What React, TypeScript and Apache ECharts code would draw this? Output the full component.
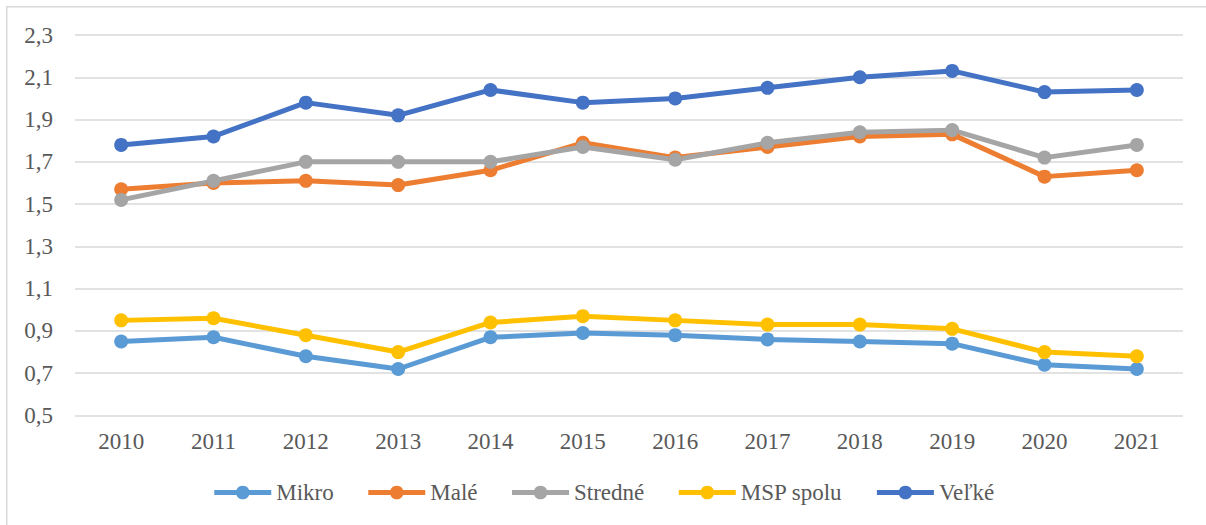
import React, { useEffect, useRef } from "react";
import * as echarts from "echarts";

const years = ["2010", "2011", "2012", "2013", "2014", "2015", "2016", "2017", "2018", "2019", "2020", "2021"];
const mikro = [0.85, 0.87, 0.78, 0.72, 0.87, 0.89, 0.88, 0.86, 0.85, 0.84, 0.74, 0.72];
const male = [1.57, 1.6, 1.61, 1.59, 1.66, 1.79, 1.72, 1.77, 1.82, 1.83, 1.63, 1.66];
const stredne = [1.52, 1.61, 1.7, 1.7, 1.7, 1.77, 1.71, 1.79, 1.84, 1.85, 1.72, 1.78];
const mspSpolu = [0.95, 0.96, 0.88, 0.8, 0.94, 0.97, 0.95, 0.93, 0.93, 0.91, 0.8, 0.78];
const velke = [1.78, 1.82, 1.98, 1.92, 2.04, 1.98, 2.0, 2.05, 2.1, 2.13, 2.03, 2.04];

const seriesNames = ["Mikro", "Malé", "Stredné", "MSP spolu", "Veľké"];
const seriesData = [mikro, male, stredne, mspSpolu, velke];
const seriesColors = ["#5B9BD5", "#ED7D31", "#A5A5A5", "#FFC000", "#4472C4"];

// axis range 0,5 .. 2,3 step 0,2 (drawn with an offset so ticks start at 0,5)
const yMin = 0.5;
const yMax = 2.3;
const yStep = 0.2;

const FONT = "Times New Roman, Liberation Serif, DejaVu Serif, serif";
const TEXT_COLOR = "#595959";

export default function App() {
  const ref = useRef<HTMLDivElement>(null);

  useEffect(() => {
    if (!ref.current) return;
    const chart = echarts.init(ref.current, undefined, { renderer: "svg" });
    const off = (v: number) => Math.round((v - yMin) * 1000) / 1000;
    chart.setOption({
      animation: false,
      backgroundColor: "#ffffff",
      textStyle: { fontFamily: FONT },
      graphic: [
        {
          type: "rect",
          shape: { x: 6.75, y: 6.75, width: 1400, height: 700 },
          style: { fill: "none", stroke: "#d9d9d9", lineWidth: 1.5 },
          silent: true,
        },
      ],
      grid: { left: 75, right: 23, top: 35, bottom: 109.5 },
      legend: {
        data: seriesNames,
        bottom: 16,
        left: "center",
        itemWidth: 57,
        itemHeight: 17,
        itemGap: 32,
        lineStyle: { width: 5 },
        textStyle: { fontFamily: FONT, fontSize: 23, color: TEXT_COLOR },
      },
      xAxis: {
        type: "category",
        data: years,
        boundaryGap: true,
        axisLine: { show: false },
        axisTick: { show: false },
        axisLabel: { fontFamily: FONT, fontSize: 23, color: TEXT_COLOR, margin: 14 },
      },
      yAxis: {
        type: "value",
        min: 0,
        max: off(yMax),
        interval: yStep,
        axisLine: { show: false },
        axisTick: { show: false },
        splitLine: { lineStyle: { color: "#d9d9d9", width: 1.5 } },
        axisLabel: {
          fontFamily: FONT,
          fontSize: 23,
          color: TEXT_COLOR,
          margin: 22,
          formatter: (v: number) => (v + yMin).toFixed(1).replace(".", ","),
        },
      },
      series: seriesNames.map((name, i) => ({
        name,
        type: "line",
        data: seriesData[i].map(off),
        symbol: "circle",
        symbolSize: 14,
        showSymbol: true,
        color: seriesColors[i],
        lineStyle: { width: 5, color: seriesColors[i] },
        itemStyle: { color: seriesColors[i] },
      })),
    });
    return () => chart.dispose();
  }, []);

  return (
    <div
      ref={ref}
      style={{ position: "fixed", left: 0, top: 0, width: 1206, height: 525 }}
    />
  );
}
